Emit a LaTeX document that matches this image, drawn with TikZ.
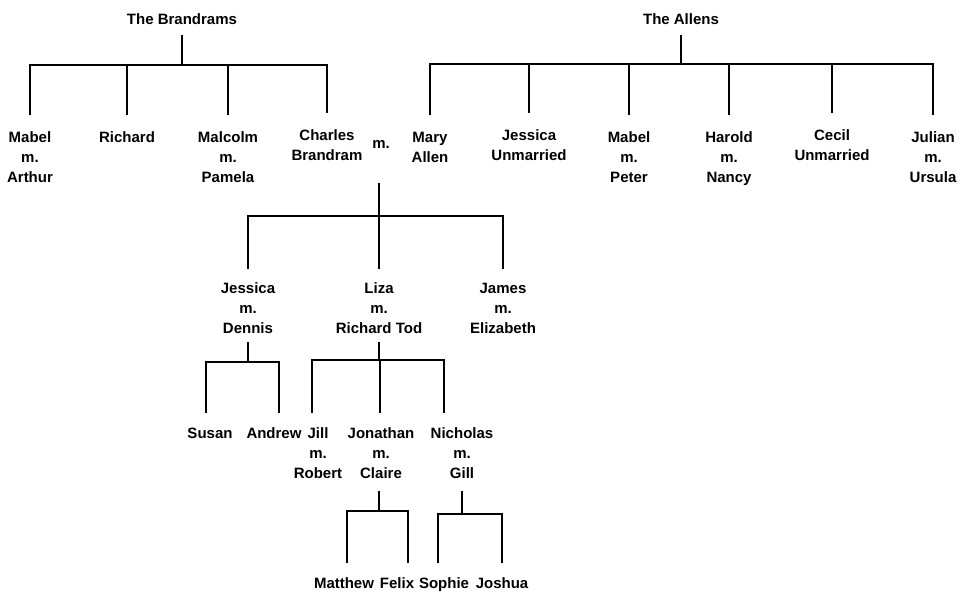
\documentclass[tikz,border=0pt]{standalone}
\usepackage{fontspec}
\setmainfont{Liberation Sans}
\begin{document}
\begin{tikzpicture}[x=1pt, y=-1pt, line width=2pt,
    person/.style={anchor=north, align=center, inner xsep=1pt, inner ysep=4pt,
        font=\fontsize{15}{20}\selectfont\bfseries}]
    \useasboundingbox (0,0) rectangle (960,591);

    % The Brandrams
    \node[person] (brandrams) at (182,9) {The Brandrams};
    \node[person] (mabela) at (30,127) {Mabel\\m.\\Arthur};
    \node[person] (richard) at (127,127) {Richard};
    \node[person] (malcolm) at (228,127) {Malcolm\\m.\\Pamela};
    \node[person] (charles) at (327,125) {Charles\\Brandram};
    \coordinate (bbar) at (brandrams.south |- 0,65);
    \draw[shorten <=5pt] (brandrams.south) -- (bbar);
    \foreach \k in {mabela, richard, malcolm, charles}
        \draw[shorten >=12pt] (bbar) -| (\k.north);

    % The Allens
    \node[person] (allens) at (681,9) {The Allens};
    \node[person] (mary) at (430,127) {Mary\\Allen};
    \node[person] (jessicaa) at (529,125) {Jessica\\Unmarried};
    \node[person] (mabelb) at (629,127) {Mabel\\m.\\Peter};
    \node[person] (harold) at (729,127) {Harold\\m.\\Nancy};
    \node[person] (cecil) at (832,125) {Cecil\\Unmarried};
    \node[person] (julian) at (933,127) {Julian\\m.\\Ursula};
    \coordinate (abar) at (allens.south |- 0,64);
    \draw[shorten <=5pt] (allens.south) -- (abar);
    \foreach \k in {mary, jessicaa, mabelb, harold, cecil, julian}
        \draw[shorten >=12pt] (abar) -| (\k.north);

    % Charles m. Mary
    \node[person, anchor=center] (marr) at (381,144) {m.};
    \node[person] (jessicab) at (248,278) {Jessica\\m.\\Dennis};
    \node[person] (liza) at (379,278) {Liza\\m.\\Richard Tod};
    \node[person] (james) at (503,278) {James\\m.\\Elizabeth};
    \coordinate (mbar) at (liza.north |- 0,216);
    \draw[shorten <=30pt] (marr.south -| mbar) -- (mbar);
    \foreach \k in {jessicab, liza, james}
        \draw[shorten >=9pt] (mbar) -| (\k.north);

    % Jessica m. Dennis
    \node[person] (susan) at (210,423) {Susan};
    \node[person] (andrew) at (274,423) {Andrew};
    \coordinate (dbar) at (jessicab.south |- 0,362);
    \draw[shorten <=3pt] (jessicab.south) -- (dbar);
    \draw[shorten >=10pt] (dbar) -| ([xshift=-4pt]susan.north);
    \draw[shorten >=10pt] (dbar) -| ([xshift=5pt]andrew.north);

    % Liza m. Richard Tod
    \node[person] (jill) at (318,423) {Jill\\m.\\Robert};
    \node[person] (jonathan) at (381,423) {Jonathan\\m.\\Claire};
    \node[person] (nicholas) at (462,423) {Nicholas\\m.\\Gill};
    \coordinate (lbar) at (liza.south |- 0,360);
    \draw[shorten <=3pt] (liza.south) -- (lbar);
    \draw[shorten >=10pt] (lbar) -| ([xshift=-6pt]jill.north);
    \draw[shorten >=10pt] (lbar) -| ([xshift=-1pt]jonathan.north);
    \draw[shorten >=10pt] (lbar) -| ([xshift=-18pt]nicholas.north);

    % Jonathan m. Claire
    \node[person] (matthew) at (344,573) {Matthew};
    \node[person] (felix) at (397,573) {Felix};
    \coordinate (jbar) at ([xshift=-2pt]jonathan.south |- 0,511);
    \draw[shorten <=7pt] (jbar |- jonathan.south) -- (jbar);
    \draw[shorten >=10pt] (jbar) -| ([xshift=3pt]matthew.north);
    \draw[shorten >=10pt] (jbar) -| ([xshift=11pt]felix.north);

    % Nicholas m. Gill
    \node[person] (sophie) at (444,573) {Sophie};
    \node[person] (joshua) at (502,573) {Joshua};
    \coordinate (nbar) at (nicholas.south |- 0,514);
    \draw[shorten <=7pt] (nicholas.south) -- (nbar);
    \draw[shorten >=10pt] (nbar) -| ([xshift=-6pt]sophie.north);
    \draw[shorten >=10pt] (nbar) -| (joshua.north);
\end{tikzpicture}
\end{document}
